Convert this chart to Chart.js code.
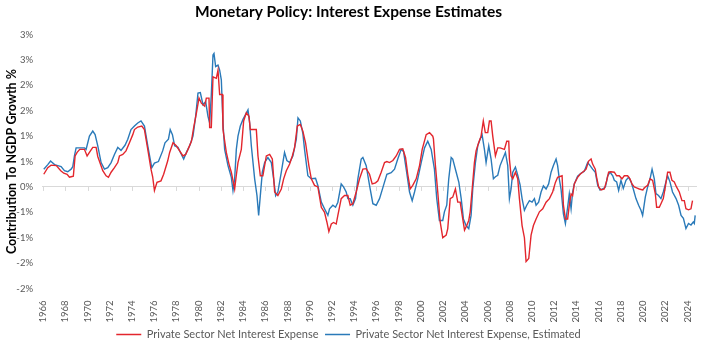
<!DOCTYPE html>
<html>
<head>
<meta charset="utf-8">
<script src="https://cdn.jsdelivr.net/npm/chart.js@4.4.1/dist/chart.umd.min.js"></script>
<style>
  html, body { margin: 0; padding: 0; background: #fff; }
  #wrap { width: 703px; height: 350px; }
</style>
</head>
<body>
<div id="wrap"><canvas id="interestChart"></canvas></div>
<script>
// Private sector net interest expense (contribution to NGDP growth, %)
const redYears = [1966.06,1966.42,1966.72,1967.19,1967.59,1967.86,1968.16,1968.37,1968.52,1968.72,1968.88,1969.06,1969.30,1969.72,1969.96,1970.17,1970.47,1970.77,1970.92,1971.37,1971.67,1971.88,1972.12,1972.42,1972.72,1972.87,1973.17,1973.46,1973.77,1974.07,1974.22,1974.52,1974.88,1975.12,1975.42,1975.71,1975.86,1976.02,1976.25,1976.61,1976.85,1977.21,1977.39,1977.69,1977.99,1978.29,1978.59,1978.83,1979.04,1979.35,1979.55,1979.80,1980.03,1980.24,1980.54,1980.69,1980.93,1980.99,1981.14,1981.29,1981.59,1981.74,1981.89,1982.13,1982.19,1982.49,1982.73,1982.94,1983.24,1983.39,1983.54,1983.84,1984.05,1984.29,1984.53,1984.65,1985.19,1985.34,1985.55,1985.78,1986.09,1986.39,1986.63,1986.84,1987.13,1987.44,1987.65,1987.89,1988.19,1988.43,1988.63,1988.88,1989.15,1989.38,1989.62,1989.92,1990.14,1990.43,1990.73,1991.04,1991.33,1991.54,1991.72,1991.94,1992.14,1992.38,1992.53,1992.83,1993.13,1993.43,1993.64,1993.88,1994.18,1994.48,1994.78,1995.08,1995.38,1995.62,1995.92,1996.13,1996.43,1996.73,1996.94,1997.18,1997.48,1997.78,1998.08,1998.37,1998.62,1998.82,1999.04,1999.27,1999.58,1999.88,2000.12,2000.48,2000.78,2001.07,2001.13,2001.31,2001.52,2001.74,2001.97,2002.28,2002.42,2002.64,2002.87,2003.11,2003.32,2003.54,2003.72,2003.93,2004.13,2004.31,2004.44,2004.62,2004.82,2004.97,2005.20,2005.42,2005.62,2005.80,2006.02,2006.17,2006.32,2006.47,2006.71,2006.92,2007.13,2007.52,2007.73,2007.91,2007.97,2008.12,2008.27,2008.51,2008.72,2008.87,2009.11,2009.32,2009.47,2009.71,2009.92,2010.13,2010.37,2010.67,2010.97,2011.27,2011.57,2011.86,2012.11,2012.31,2012.71,2012.83,2013.01,2013.21,2013.36,2013.52,2013.66,2013.81,2014.11,2014.33,2014.56,2014.87,2015.10,2015.32,2015.46,2015.70,2015.82,2016.00,2016.22,2016.51,2016.72,2016.90,2017.11,2017.41,2017.62,2017.86,2018.10,2018.31,2018.61,2018.82,2019.00,2019.21,2019.42,2019.66,2019.96,2020.20,2020.41,2020.63,2020.86,2021.10,2021.22,2021.46,2021.61,2021.82,2022.00,2022.21,2022.42,2022.60,2022.81,2023.01,2023.26,2023.50,2023.71,2023.86,2024.09,2024.31,2024.45];
const redValues = [0.25,0.38,0.43,0.42,0.32,0.27,0.25,0.19,0.20,0.21,0.61,0.68,0.74,0.74,0.61,0.68,0.78,0.78,0.60,0.32,0.22,0.19,0.29,0.38,0.48,0.61,0.64,0.71,0.87,1.03,1.13,1.18,1.20,1.13,0.74,0.35,0.20,-0.07,0.09,0.12,0.25,0.51,0.68,0.87,0.81,0.71,0.61,0.64,0.74,0.90,1.17,1.46,1.75,1.65,1.59,1.75,1.75,1.17,1.17,2.17,2.14,2.30,1.82,1.82,1.13,0.68,0.45,0.29,-0.04,0.23,0.48,0.74,1.30,1.46,1.39,1.13,1.13,0.61,0.22,0.22,0.61,0.64,0.55,-0.10,-0.17,-0.04,0.16,0.32,0.45,0.61,0.77,1.20,1.23,1.10,0.87,0.42,0.16,0.03,0.00,-0.40,-0.50,-0.69,-0.88,-0.73,-0.70,-0.73,-0.56,-0.23,-0.17,-0.17,-0.36,-0.33,-0.10,0.16,0.35,0.36,0.25,0.06,0.08,0.12,0.29,0.48,0.50,0.48,0.52,0.61,0.74,0.75,0.58,0.25,-0.04,0.03,0.16,0.42,0.74,1.03,1.07,1.00,0.95,0.42,-0.10,-0.69,-1.00,-0.95,-0.82,-0.23,-0.20,-0.04,-0.30,-0.30,-0.56,-0.85,-0.76,-0.66,-0.49,-0.04,0.48,0.71,0.87,1.00,1.30,1.07,1.07,1.30,1.30,1.00,0.61,0.77,0.77,0.74,0.90,0.90,0.55,0.22,0.16,0.29,0.16,-0.23,-0.76,-1.00,-1.47,-1.41,-0.95,-0.76,-0.63,-0.49,-0.43,-0.30,-0.23,-0.10,0.09,0.19,0.22,-0.36,-0.63,-0.63,-0.36,-0.14,-0.17,0.06,0.19,0.25,0.29,0.35,0.51,0.55,0.45,0.35,0.19,0.00,-0.06,-0.04,0.12,0.29,0.30,0.29,0.22,0.22,0.16,0.22,0.22,0.16,0.06,0.00,-0.02,-0.04,-0.06,0.00,0.03,0.16,0.13,-0.13,-0.40,-0.40,-0.33,-0.23,0.00,0.29,0.29,0.13,0.10,0.00,-0.10,-0.27,-0.27,-0.43,-0.45,-0.43,-0.27];

// Private sector net interest expense, estimated
const blueYears = [1966.06,1966.42,1966.67,1967.03,1967.32,1967.62,1967.92,1968.22,1968.52,1968.67,1968.82,1968.97,1969.30,1969.72,1969.87,1970.17,1970.47,1970.68,1970.92,1971.22,1971.52,1971.82,1972.12,1972.42,1972.72,1973.01,1973.37,1973.62,1973.91,1974.22,1974.52,1974.81,1975.12,1975.42,1975.78,1976.02,1976.38,1976.76,1976.97,1977.28,1977.44,1977.64,1977.84,1978.14,1978.45,1978.65,1978.90,1979.19,1979.49,1979.73,1979.94,1980.15,1980.39,1980.63,1980.84,1980.99,1981.14,1981.29,1981.38,1981.53,1981.74,1981.89,1982.04,1982.19,1982.34,1982.64,1982.94,1983.09,1983.24,1983.39,1983.54,1983.75,1983.99,1984.23,1984.44,1984.59,1984.74,1985.04,1985.25,1985.40,1985.55,1985.73,1985.94,1986.23,1986.54,1986.75,1986.93,1987.13,1987.44,1987.73,1987.94,1988.19,1988.48,1988.79,1988.94,1989.15,1989.38,1989.53,1989.83,1990.14,1990.52,1990.73,1991.04,1991.33,1991.63,1991.78,1992.08,1992.32,1992.53,1992.83,1993.04,1993.28,1993.43,1993.64,1993.88,1994.12,1994.33,1994.63,1994.78,1995.08,1995.38,1995.68,1995.98,1996.28,1996.64,1996.94,1997.33,1997.63,1997.92,1998.23,1998.44,1998.68,1998.98,1999.22,1999.43,1999.72,2000.03,2000.33,2000.62,2000.93,2001.22,2001.43,2001.67,2001.97,2002.12,2002.33,2002.51,2002.73,2002.87,2003.18,2003.42,2003.63,2003.83,2004.07,2004.31,2004.52,2004.67,2004.91,2005.12,2005.33,2005.51,2005.72,2005.87,2006.11,2006.32,2006.53,2006.71,2006.92,2007.13,2007.37,2007.61,2007.82,2007.97,2008.12,2008.27,2008.51,2008.72,2008.93,2009.11,2009.32,2009.53,2009.77,2010.01,2010.22,2010.37,2010.60,2010.82,2011.03,2011.27,2011.50,2011.72,2011.93,2012.17,2012.31,2012.46,2012.62,2012.83,2013.01,2013.21,2013.36,2013.52,2013.66,2013.81,2014.11,2014.41,2014.71,2015.01,2015.23,2015.46,2015.70,2015.92,2016.13,2016.37,2016.61,2016.82,2017.03,2017.27,2017.41,2017.62,2017.80,2018.01,2018.22,2018.46,2018.70,2018.92,2019.12,2019.36,2019.60,2019.81,2019.96,2020.20,2020.41,2020.63,2020.81,2021.01,2021.16,2021.39,2021.61,2021.82,2022.06,2022.21,2022.42,2022.65,2022.97,2023.20,2023.42,2023.63,2023.86,2024.09,2024.31,2024.52,2024.61,2024.69];
const blueValues = [0.35,0.44,0.51,0.44,0.42,0.40,0.32,0.30,0.35,0.40,0.61,0.77,0.77,0.77,0.74,1.00,1.10,1.03,0.81,0.48,0.35,0.38,0.48,0.64,0.78,0.72,0.82,0.94,1.13,1.20,1.26,1.30,1.20,0.81,0.38,0.47,0.50,0.71,0.87,0.94,1.13,1.03,0.81,0.78,0.64,0.55,0.68,0.81,1.00,1.39,1.85,1.86,1.62,1.68,1.39,1.26,1.82,2.60,2.63,2.37,2.40,2.30,2.11,1.26,0.74,0.42,0.19,-0.07,0.16,0.74,1.00,1.20,1.33,1.43,1.52,1.26,0.81,0.16,-0.17,-0.56,-0.17,0.29,0.48,0.58,0.48,0.16,-0.17,-0.10,0.29,0.68,0.52,0.48,0.61,0.94,1.36,1.30,1.05,0.74,0.22,0.16,0.17,0.03,-0.30,-0.43,-0.56,-0.43,-0.36,-0.40,-0.30,0.06,0.00,-0.10,-0.23,-0.23,-0.36,-0.23,0.16,0.55,0.58,0.42,0.03,-0.33,-0.36,-0.23,0.03,0.25,0.28,0.35,0.55,0.74,0.70,0.35,-0.10,-0.27,-0.10,0.16,0.48,0.77,0.90,0.74,0.35,-0.23,-0.66,-0.66,-0.49,-0.36,0.16,0.58,0.55,0.29,0.09,-0.23,-0.63,-0.76,-0.82,-0.56,-0.04,0.48,0.81,0.94,1.03,0.74,0.48,0.81,0.55,0.16,0.20,0.23,0.42,0.55,0.68,0.42,-0.23,-0.04,0.29,0.39,0.23,0.04,-0.23,-0.46,-0.36,-0.27,-0.30,-0.23,-0.36,-0.30,-0.10,0.02,-0.04,0.06,0.29,0.42,0.55,0.42,0.16,-0.05,-0.53,-0.72,-0.40,-0.14,-0.43,-0.10,0.06,0.21,0.27,0.31,0.48,0.42,0.35,0.29,0.03,-0.06,-0.04,0.00,0.22,0.29,0.22,0.13,0.10,-0.07,0.13,-0.03,0.13,0.19,0.10,-0.04,-0.23,-0.36,-0.46,-0.56,-0.20,0.00,0.16,0.35,0.16,-0.13,-0.17,-0.23,-0.10,0.10,0.22,0.10,-0.10,-0.23,-0.36,-0.56,-0.62,-0.82,-0.72,-0.75,-0.69,-0.72,-0.56];

const seriesNames = ['Private Sector Net Interest Expense', 'Private Sector Net Interest Expense, Estimated'];

function toPoints(xs, ys) {
  return xs.map((x, i) => ({ x: x, y: ys[i] }));
}

// small tick marks on the zero line, like the Excel original
const zeroTicks = {
  id: 'zeroTicks',
  beforeDatasetsDraw(chart) {
    const xs = chart.scales.x, ys = chart.scales.y;
    const y0 = ys.getPixelForValue(0);
    const ctx = chart.ctx;
    ctx.save();
    ctx.strokeStyle = '#D9D9D9';
    ctx.lineWidth = 1;
    ctx.beginPath();
    xs.ticks.forEach(t => {
      const px = Math.round(xs.getPixelForValue(t.value)) + 0.5;
      ctx.moveTo(px, y0);
      ctx.lineTo(px, y0 + 4);
    });
    ctx.stroke();
    ctx.restore();
  }
};

Chart.defaults.font.family = 'Lato';
Chart.defaults.color = '#595959';

const ctx = document.getElementById('interestChart').getContext('2d');
new Chart(ctx, {
  type: 'line',
  data: {
    datasets: [{
      label: seriesNames[0],
      data: toPoints(redYears, redValues),
      borderColor: '#E3262D',
      backgroundColor: '#E3262D',
      borderWidth: 1.4,
      pointRadius: 0,
      tension: 0
    }, {
      label: seriesNames[1],
      data: toPoints(blueYears, blueValues),
      borderColor: '#2A7AB9',
      backgroundColor: '#2A7AB9',
      borderWidth: 1.4,
      pointRadius: 0,
      tension: 0
    }]
  },
  options: {
    responsive: true,
    maintainAspectRatio: false,
    animation: false,
    layout: { padding: { right: 6, bottom: 0 } },
    plugins: {
      title: {
        display: true,
        text: 'Monetary Policy: Interest Expense Estimates',
        color: '#000',
        font: { size: 15.5, weight: 'bold' },
        padding: { top: 3, bottom: 13 }
      },
      legend: {
        position: 'bottom',
        labels: {
          usePointStyle: true,
          pointStyle: 'line',
          pointStyleWidth: 25,
          font: { size: 11 },
          color: '#595959',
          padding: 6.5
        }
      },
      tooltip: { enabled: false }
    },
    scales: {
      x: {
        type: 'linear',
        min: 1965.9,
        max: 2024.85,
        afterFit: s => { s.height = 34; },
        grid: { display: false },
        border: { display: false },
        ticks: {
          stepSize: 2,
          includeBounds: false,
          autoSkip: false,
          minRotation: 90,
          maxRotation: 90,
          padding: 4,
          font: { size: 9.5 },
          callback: v => String(v)
        }
      },
      y: {
        min: -2,
        max: 3,
        afterFit: s => { s.width = 42; },
        border: { display: false },
        grid: {
          drawTicks: false,
          color: c => c.tick.value === 0 ? '#D9D9D9' : 'rgba(0,0,0,0)'
        },
        ticks: {
          stepSize: 0.5,
          padding: 9,
          font: { size: 9.5 },
          callback: v => v.toFixed(0) + '%'
        },
        title: {
          display: true,
          text: 'Contribution To NGDP Growth %',
          color: '#000',
          font: { size: 12.5, weight: 'bold' },
          padding: { top: 4, bottom: 0 }
        }
      }
    }
  },
  plugins: [zeroTicks]
});
</script>
</body>
</html>
